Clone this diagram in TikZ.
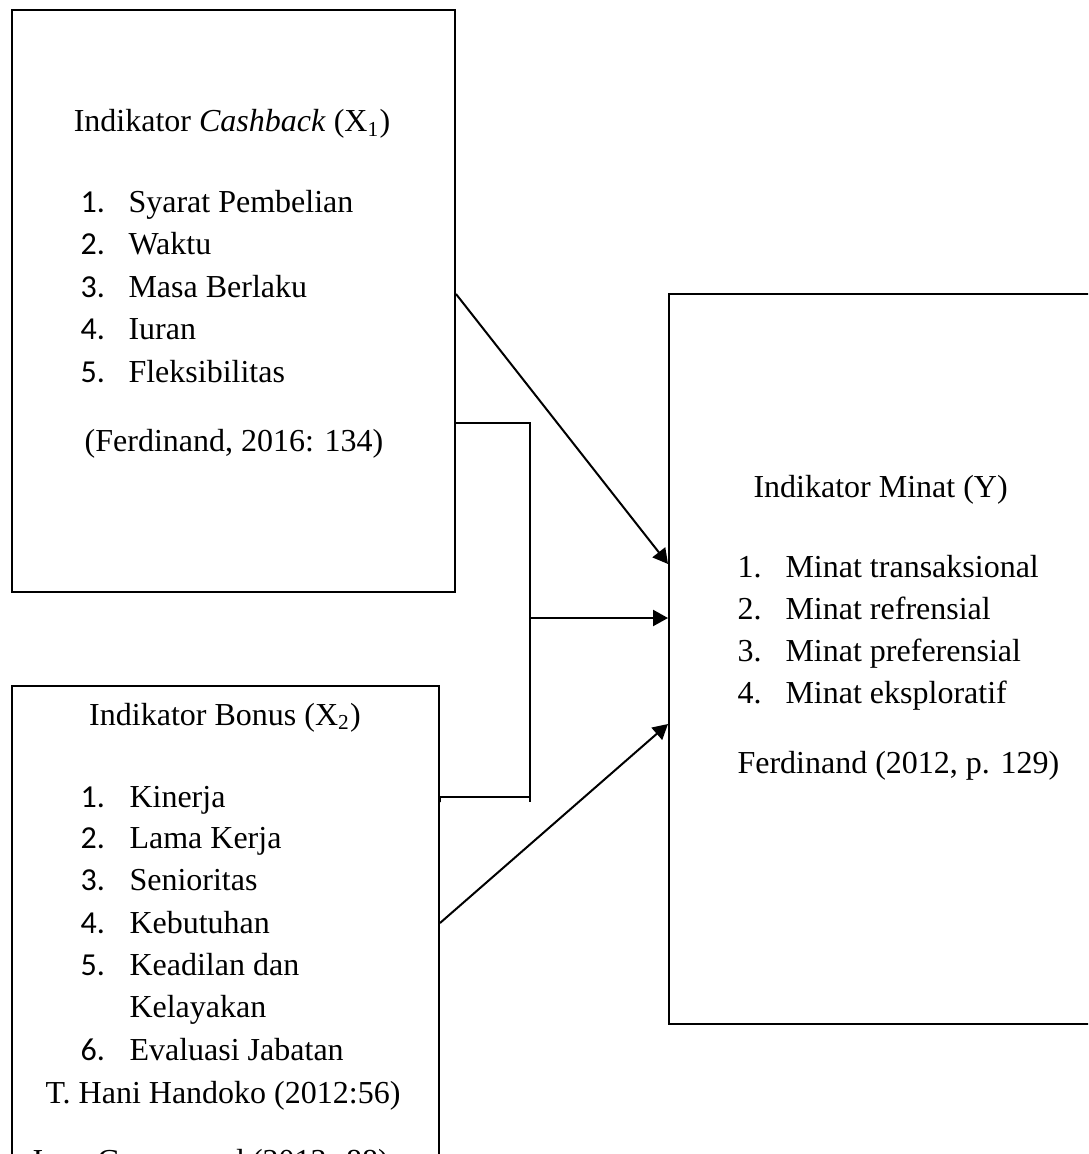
\documentclass[tikz,border=0pt]{standalone}
\usepackage{fontspec}
\setmainfont{Liberation Serif}
\newfontfamily\numfont{Carlito}
\usepackage{tikz}
\usetikzlibrary{shapes.geometric, arrows.meta}
\newdimen\px
\px=0.375pt
\tikzstyle{indbox} = [rectangle, anchor=north west, inner sep=0pt, draw=black, line width=0.75pt]
\tikzstyle{txt} = [anchor=base west, inner sep=0pt, font=\fontsize{12}{14}\selectfont]
\tikzstyle{title} = [anchor=base, inner sep=0pt, font=\fontsize{12}{14}\selectfont]
\tikzstyle{num} = [anchor=base west, inner sep=0pt, font=\numfont\fontsize{12}{14}\selectfont]
\tikzstyle{line} = [line width=0.75pt]
\tikzstyle{arrow} = [line width=0.75pt,-{Triangle[length=5.6pt,width=6pt]}]

\begin{document}
\begin{tikzpicture}[x=0.375pt, y=-0.375pt]

\useasboundingbox (0,0) rectangle (1088,1154);
\clip (0,0) rectangle (1088,1154);

% boxes
\node (cashback) [indbox, minimum width=443\px, minimum height=582\px] at (11,9) {};

\node (bonus) [indbox, minimum width=427\px, minimum height=615\px] at (11,685) {};

\node (minat) [indbox, minimum width=452\px, minimum height=730\px] at (668,293) {};

% cashback
\node (cbtitle) [title] at (232,132) {Indikator \textit{Cashback} (X\textsubscript{1})};
\node (cbn1) [num] at (80,213) {1.};
\node (cb1) [txt] at (128,213) {Syarat Pembelian};
\node (cbn2) [num] at (80,255) {2.};
\node (cb2) [txt] at (128,255) {Waktu};
\node (cbn3) [num] at (80,298) {3.};
\node (cb3) [txt] at (128,298) {Masa Berlaku};
\node (cbn4) [num] at (80,340) {4.};
\node (cb4) [txt] at (128,340) {Iuran};
\node (cbn5) [num] at (80,383) {5.};
\node (cb5) [txt] at (128,383) {Fleksibilitas};
\node (cbsrc) [title] at (234,451) {(Ferdinand, 2016: 134)};

% bonus
\node (bntitle) [title] at (225,725) {Indikator Bonus (X\textsubscript{2})};
\node (bnn1) [num] at (80,807) {1.};
\node (bn1) [txt] at (129,807) {Kinerja};
\node (bnn2) [num] at (80,848) {2.};
\node (bn2) [txt] at (129,848) {Lama Kerja};
\node (bnn3) [num] at (80,890) {3.};
\node (bn3) [txt] at (129,890) {Senioritas};
\node (bnn4) [num] at (80,933) {4.};
\node (bn4) [txt] at (129,933) {Kebutuhan};
\node (bnn5) [num] at (80,975) {5.};
\node (bn5) [txt] at (129,975) {Keadilan dan};
\node (bn5b) [txt] at (129,1017) {Kelayakan};
\node (bnn6) [num] at (80,1060) {6.};
\node (bn6) [txt] at (129,1060) {Evaluasi Jabatan};
\node (bnsrc) [title] at (223,1103) {T. Hani Handoko (2012:56)};
\node (bnsrc2) [txt] at (32,1171) {Ivan Gunawan d (2013: 88)};

% minat
\node (mntitle) [txt] at (753,497) {Indikator Minat (Y)};
\node (mnn1) [txt] at (737,577) {1.};
\node (mn1) [txt] at (785,577) {Minat transaksional};
\node (mnn2) [txt] at (737,619) {2.};
\node (mn2) [txt] at (785,619) {Minat refrensial};
\node (mnn3) [txt] at (737,661) {3.};
\node (mn3) [txt] at (785,661) {Minat preferensial};
\node (mnn4) [txt] at (737,703) {4.};
\node (mn4) [txt] at (785,703) {Minat eksploratif};
\node (mnsrc) [txt] at (737,773) {Ferdinand (2012, p. 129)};

% connectors
\coordinate (join) at (530,618);
\coordinate (brk) at (530,802);

\draw [arrow] ([yshift=7\px]cashback.east) -- ([yshift=95\px]minat.west);
\draw [line] ([yshift=-122\px]cashback.east) -| (brk);
\draw [line] ([yshift=-112\px]bonus.north east) -- (bonus.north east |- join |- brk) -- ++(0,-5) -| (join);
\draw [arrow] (join) -- (join -| minat.west);
\draw [arrow] ([yshift=-238\px]bonus.north east) -- ([yshift=-65\px]minat.west);

\end{tikzpicture}
\end{document}
